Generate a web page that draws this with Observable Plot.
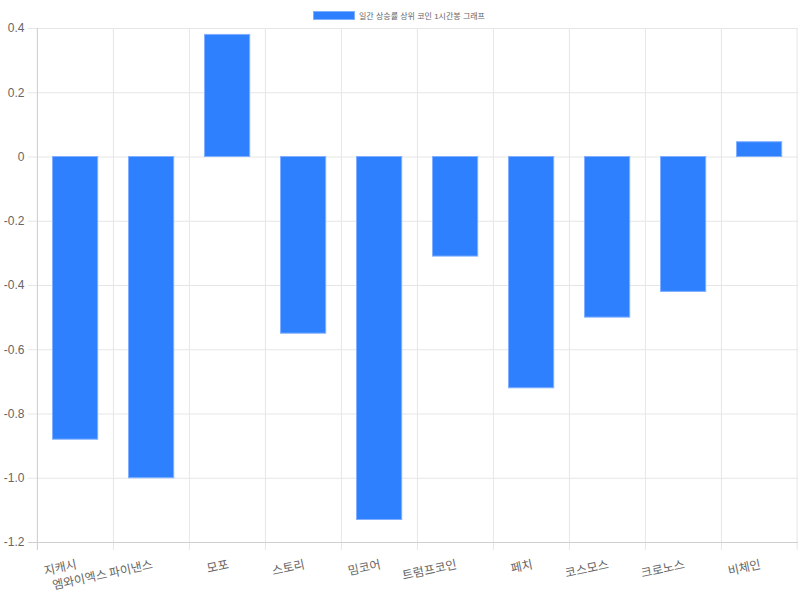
<!DOCTYPE html>
<html>
<head>
<meta charset="utf-8">
<script src="https://cdn.jsdelivr.net/npm/d3@7"></script>
<script src="https://cdn.jsdelivr.net/npm/@observablehq/plot@0.6"></script>
<style>
  body { margin: 0; background: #fff; }
  #wrap { position: relative; width: 800px; height: 600px; font-family: 'Helvetica Neue', Helvetica, Arial, 'Noto Sans CJK KR', sans-serif; }
  #legend { position: absolute; left: 313px; top: 8px; height: 14px; display: flex; align-items: center; font-size: 8px; color: #666; white-space: nowrap; }
  #legend .box { width: 40px; height: 7px; background: #2f80ff; border: 0.5px solid #7fb0ff; margin-right: 4px; }
</style>
</head>
<body>
<div id="wrap">
  <div id="legend"><span class="box"></span><span id="legendText"></span></div>
</div>
<script>
const seriesName = "일간 상승률 상위 코인 1시간봉 그래프";
const categories = ["지캐시", "엠와이엑스 파이낸스", "모포", "스토리", "밈코어", "트럼프코인", "페치", "코스모스", "크로노스", "비체인"];
const values = [-0.88, -1.0, 0.38, -0.55, -1.13, -0.31, -0.72, -0.50, -0.42, 0.046];
const yTicks = [0.4, 0.2, 0, -0.2, -0.4, -0.6, -0.8, -1.0, -1.2];

document.getElementById("legendText").textContent = seriesName;

const data = categories.map((c, i) => ({name: c, value: values[i]}));
const W = 800, H = 600, mL = 36, mR = 2, mT = 28, mB = 58;
const step = (W - mL - mR) / categories.length;
const gridColor = "#e6e6e6";
const axisColor = "#cfcfcf";
const fmt = d => d === 0 ? "0" : d.toFixed(1);

const chart = Plot.plot({
  width: W,
  height: H,
  marginLeft: mL,
  marginRight: mR,
  marginTop: mT,
  marginBottom: mB,
  style: {fontFamily: "'Helvetica Neue', Helvetica, Arial, 'Noto Sans CJK KR', sans-serif", fontSize: "12px", background: "transparent"},
  x: {type: "band", domain: categories, padding: 0, axis: null},
  y: {domain: [-1.2, 0.4], axis: null},
  marks: [
    Plot.ruleY(yTicks, {y: d => d, stroke: gridColor, strokeWidth: 1, insetLeft: -8}),
    Plot.ruleX(categories, {x: d => d, dx: -step / 2, stroke: gridColor, strokeWidth: 1, insetBottom: -8}),
    Plot.ruleX([categories[categories.length - 1]], {x: d => d, dx: step / 2 - 0.5, stroke: gridColor, strokeWidth: 1, insetBottom: -8}),
    Plot.ruleX([categories[0]], {x: d => d, dx: -step / 2, stroke: axisColor, strokeWidth: 1, insetBottom: -8}),
    Plot.ruleY([-1.2], {y: d => d, stroke: axisColor, strokeWidth: 1, insetLeft: -8}),
    Plot.barY(data, {x: "name", y: "value", fill: "#2f80ff", stroke: "#80b0ff", strokeWidth: 1, insetLeft: 15.5, insetRight: 15.3}),
    Plot.text(yTicks, {y: d => d, text: fmt, frameAnchor: "left", dx: -12, textAnchor: "end", fill: "#666", fontSize: 12}),
    Plot.text(data, {x: "name", text: "name", frameAnchor: "bottom", dx: 1, dy: 22, rotate: -12, textAnchor: "end", lineAnchor: "middle", fill: "#666", fontSize: 12, fontFamily: "'Noto Sans CJK KR', sans-serif"})
  ]
});
document.getElementById("wrap").appendChild(chart);
</script>
</body>
</html>
